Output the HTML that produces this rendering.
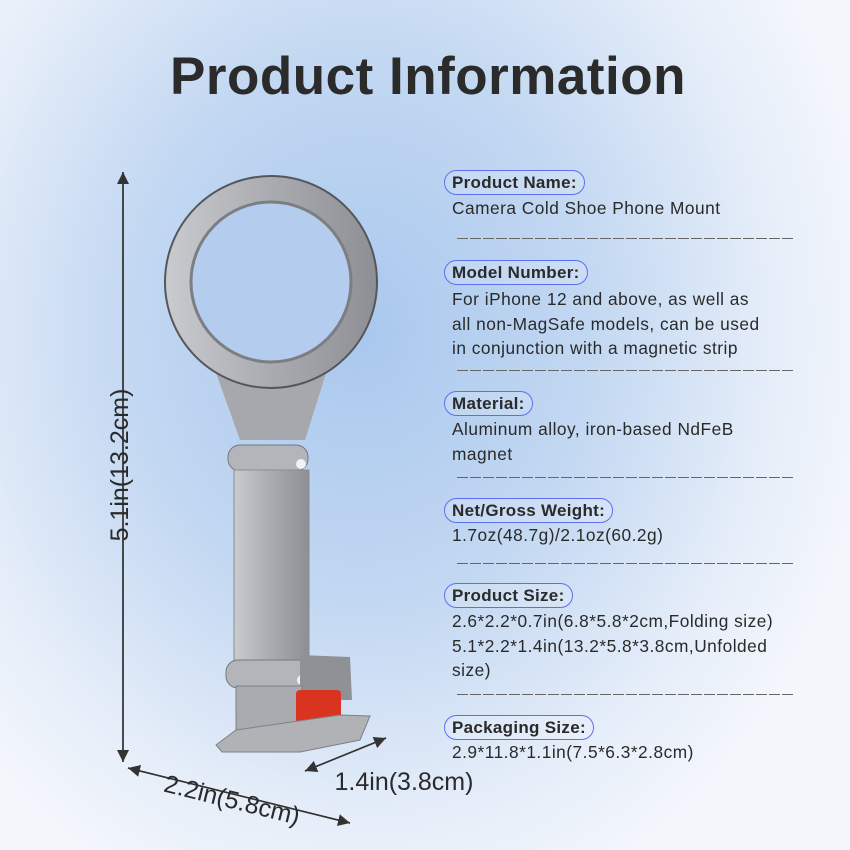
<!DOCTYPE html>
<html><head><meta charset="utf-8"><style>
html,body{margin:0;padding:0}
body{width:850px;height:850px;overflow:hidden;position:relative;font-family:"Liberation Sans",sans-serif;
background:radial-gradient(ellipse 520px 620px at 360px 330px,#a9c8ee 0%,#c3d8f2 45%,#e6eef9 80%,#f4f7fc 100%);}
.t{position:absolute;color:#2a2a2a;font-size:17.3px;white-space:nowrap;letter-spacing:0.5px}
.b{position:absolute;border:1.5px solid #5f6ef0;border-radius:13px;height:23px;line-height:23px;padding:0 7px;font-weight:bold;font-size:17px;color:#2a2a2a;background:rgba(255,255,255,0.15);letter-spacing:0.3px}
.d{position:absolute;left:457px;width:338px;height:1px;background:repeating-linear-gradient(90deg,#666 0 11px,transparent 11px 13px);}
h1{position:absolute;left:0;width:856px;text-align:center;top:46px;margin:0;font-size:53px;font-weight:bold;color:#2b2b2b;letter-spacing:0.5px}
</style></head><body>
<h1>Product Information</h1>
<svg width="850" height="850" style="position:absolute;left:0;top:0">
<defs>
<linearGradient id="m" x1="0" x2="1"><stop offset="0" stop-color="#c9cbcf"/><stop offset="0.5" stop-color="#a9abb0"/><stop offset="1" stop-color="#8d8f94"/></linearGradient>
<marker id="a" markerWidth="10" markerHeight="10" refX="8" refY="4" orient="auto"><path d="M0,0 L8,4 L0,8 Z" fill="#333"/></marker>
</defs>
<path d="M215,370 L327,370 L305,440 L240,440 Z" fill="#a6a8ad"/>
<circle cx="271" cy="282" r="106" fill="url(#m)" stroke="#55575c" stroke-width="2"/>
<circle cx="271" cy="282" r="80" fill="#b4cdee" stroke="#7c7e83" stroke-width="3"/>
<rect x="228" y="445" width="80" height="26" rx="12" fill="#b3b5ba" stroke="#77797e"/>
<circle cx="301" cy="464" r="5" fill="#f2f2f2"/>
<rect x="234" y="470" width="75" height="200" fill="url(#m)" stroke="#8a8c90"/>
<rect x="226" y="660" width="84" height="28" rx="12" fill="#b3b5ba" stroke="#77797e"/>
<circle cx="302" cy="680" r="5" fill="#f2f2f2"/>
<path d="M300,655 L350,657 L352,700 L300,700 Z" fill="#8f9196"/>
<rect x="236" y="686" width="66" height="46" fill="#a9abb0" stroke="#7e8085"/>
<rect x="296" y="690" width="45" height="38" rx="4" fill="#d8341f"/>
<path d="M216,745 L236,730 L340,715 L370,716 L360,740 L300,752 L222,752 Z" fill="#b0b2b6" stroke="#7e8085"/>
<line x1="123" y1="762" x2="123" y2="172" stroke="#333" stroke-width="1.5" marker-end="url(#a)"/>
<line x1="123" y1="172" x2="123" y2="762" stroke="#333" stroke-width="1.5" marker-end="url(#a)"/>
<line x1="350" y1="823" x2="128" y2="768" stroke="#333" stroke-width="1.5" marker-end="url(#a)"/>
<line x1="128" y1="768" x2="350" y2="823" stroke="#333" stroke-width="1.5" marker-end="url(#a)"/>
<line x1="386" y1="738" x2="305" y2="771" stroke="#333" stroke-width="1.5" marker-end="url(#a)"/>
<line x1="305" y1="771" x2="386" y2="738" stroke="#333" stroke-width="1.5" marker-end="url(#a)"/>
<text x="0" y="0" transform="translate(128,465) rotate(-90)" text-anchor="middle" font-family="Liberation Sans" font-size="25" fill="#2a2a2a">5.1in(13.2cm)</text>
<text x="0" y="0" transform="translate(230,808) rotate(14)" text-anchor="middle" font-family="Liberation Sans" font-size="25" fill="#2a2a2a">2.2in(5.8cm)</text>
<text x="404" y="790" text-anchor="middle" font-family="Liberation Sans" font-size="25" fill="#2a2a2a">1.4in(3.8cm)</text>
</svg>
<div class="b" style="left:444px;top:170px">Product Name:</div>
<div class="t" style="left:452px;top:198px">Camera Cold Shoe Phone Mount</div>
<div class="d" style="top:238px"></div>
<div class="b" style="left:444px;top:260px">Model Number:</div>
<div class="t" style="left:452px;top:287px;line-height:24.5px">For iPhone 12 and above, as well as<br>all non-MagSafe models, can be used<br>in conjunction with a magnetic strip</div>
<div class="d" style="top:370px"></div>
<div class="b" style="left:444px;top:391px">Material:</div>
<div class="t" style="left:452px;top:417px;line-height:24.5px">Aluminum alloy, iron-based NdFeB<br>magnet</div>
<div class="d" style="top:477px"></div>
<div class="b" style="left:444px;top:498px">Net/Gross Weight:</div>
<div class="t" style="left:452px;top:525px">1.7oz(48.7g)/2.1oz(60.2g)</div>
<div class="d" style="top:563px"></div>
<div class="b" style="left:444px;top:583px">Product Size:</div>
<div class="t" style="left:452px;top:609px;line-height:24.5px">2.6*2.2*0.7in(6.8*5.8*2cm,Folding size)<br>5.1*2.2*1.4in(13.2*5.8*3.8cm,Unfolded<br>size)</div>
<div class="d" style="top:694px"></div>
<div class="b" style="left:444px;top:715px">Packaging Size:</div>
<div class="t" style="left:452px;top:742px">2.9*11.8*1.1in(7.5*6.3*2.8cm)</div>
</body></html>
